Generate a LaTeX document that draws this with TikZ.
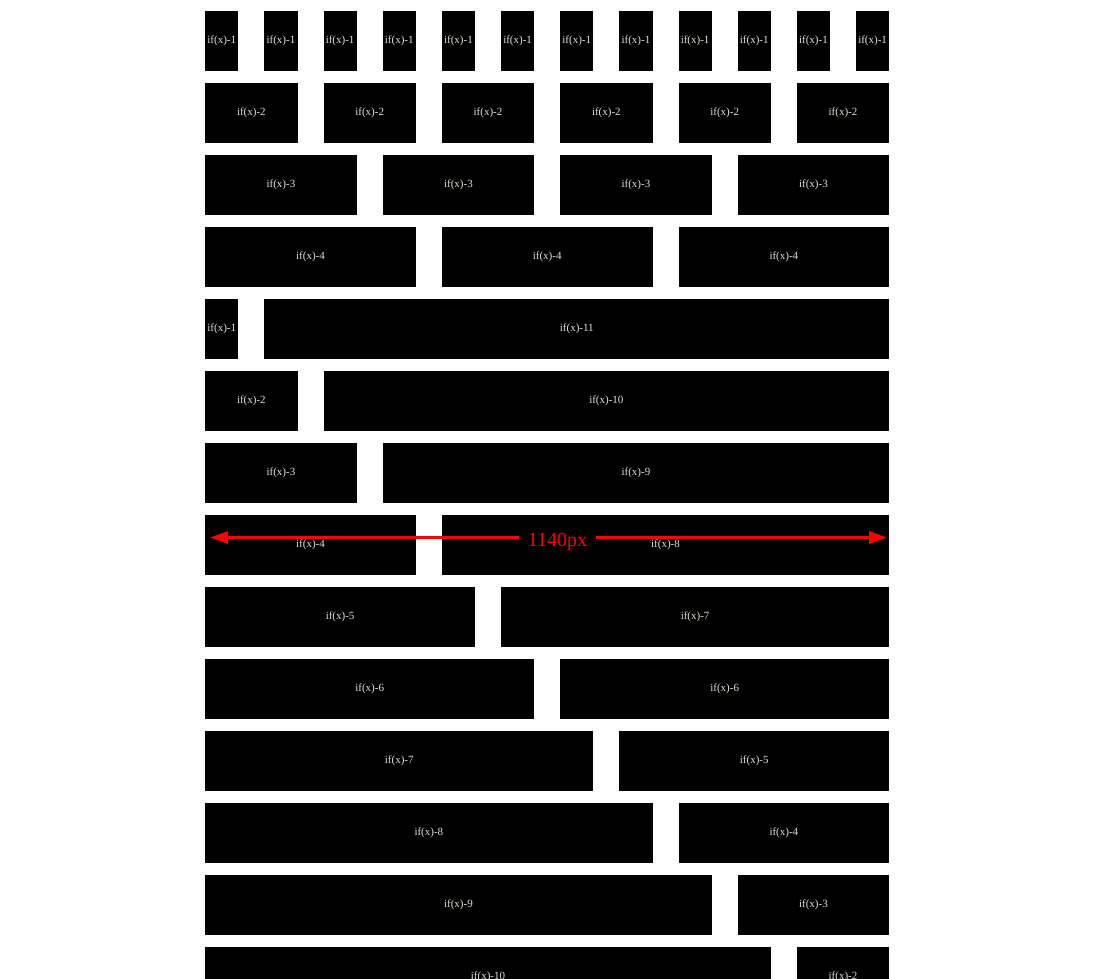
\documentclass[tikz,border=0pt]{standalone}
\usepackage{fontspec}
\setmainfont{Liberation Serif}
\usetikzlibrary{arrows.meta}
\definecolor{lblcol}{HTML}{DDE3D6}
\tikzset{
  cell/.style={fill=black, draw=none, inner sep=0pt, minimum height=60pt,
    text=lblcol, font=\fontsize{11}{13}\selectfont, anchor=north west},
  measure/.style={red, line width=3pt, -{Triangle[length=18pt,width=12pt]}},
  measurelbl/.style={text=red, font=\fontsize{20}{24}\selectfont, inner xsep=9pt, inner ysep=2pt}
}
\newcommand\cellbox[4]{%
  \node[cell, minimum width={#4*59.1667-26}, text width={#4*59.1667-26}, align=center]
    (#1) at ({205+#3*59.1667},{11+#2*72}) {\raisebox{-1pt}{if(x)-#4}};}
\begin{document}
\begin{tikzpicture}[x=1pt,y=-1pt]
\useasboundingbox (0,0) rectangle (1117,979);
\clip (0,0) rectangle (1117,979);
\fill[white] (0,0) rectangle (1117,979);
% row 1
\foreach \c in {0,...,11} {\cellbox{ra-\c}{0}{\c}{1}}
% row 2
\foreach \c in {0,2,4,6,8,10} {\cellbox{rb-\c}{1}{\c}{2}}
% row 3
\foreach \c in {0,3,6,9} {\cellbox{rc-\c}{2}{\c}{3}}
% row 4
\foreach \c in {0,4,8} {\cellbox{rd-\c}{3}{\c}{4}}
% rows 5-14
\foreach \a [evaluate=\a as \r using int(\a+3), evaluate=\a as \b using int(12-\a)] in {1,...,10} {
  \cellbox{re-\a-l}{\r}{0}{\a}
  \cellbox{re-\a-r}{\r}{\a}{\b}
}
% measurement arrow
\coordinate (aL) at (210,537.5);
\coordinate (aR) at (887,537.5);
\node[measurelbl] (len) at (557.5,542) {1140px};
\draw[measure] (len.west |- aL) -- (aL);
\draw[measure] (len.east |- aR) -- (aR);
\end{tikzpicture}
\end{document}
